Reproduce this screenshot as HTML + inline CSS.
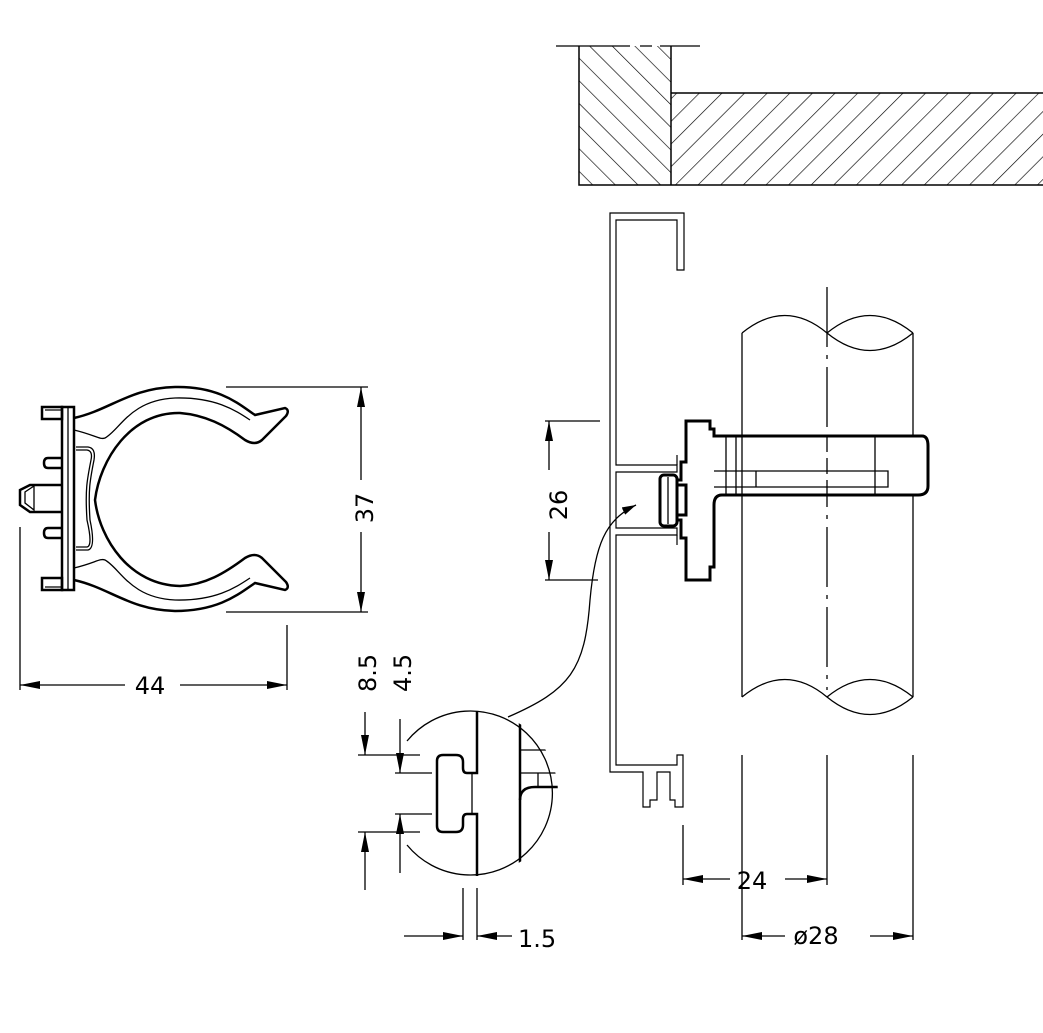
<!DOCTYPE html>
<html><head><meta charset="utf-8"><style>
html,body{margin:0;padding:0;background:#fff}
svg{display:block}
text{font-family:"DejaVu Sans","Liberation Sans",sans-serif;font-size:24px;fill:#000}
</style></head><body>
<svg width="1043" height="1033" viewBox="0 0 1043 1033" xmlns="http://www.w3.org/2000/svg">
<defs>
<pattern id="hL" patternUnits="userSpaceOnUse" width="16" height="16" patternTransform="rotate(-45)">
<line x1="0" y1="0" x2="0" y2="16" stroke="#000" stroke-width="1.3"/></pattern>
<pattern id="hR" patternUnits="userSpaceOnUse" width="16" height="16" patternTransform="rotate(45)">
<line x1="0" y1="0" x2="0" y2="16" stroke="#000" stroke-width="1.3"/></pattern>
<marker id="ar" viewBox="0 0 20 8" refX="20" refY="4" markerWidth="20" markerHeight="9" markerUnits="userSpaceOnUse" orient="auto-start-reverse"><path d="M0,0 L20,4 L0,8 z" fill="#000"/></marker>
<marker id="sa" viewBox="0 0 14 8" refX="14" refY="4" markerWidth="14" markerHeight="8" markerUnits="userSpaceOnUse" orient="auto"><path d="M0,0 L14,4 L0,8 z" fill="#000"/></marker>
<clipPath id="cc"><circle cx="476" cy="793" r="82"/></clipPath>
</defs>
<g fill="none" stroke="#000" stroke-width="1.3">
<rect x="579" y="46" width="92" height="139" fill="url(#hL)" stroke="none"/>
<rect x="671" y="93" width="372" height="92" fill="url(#hR)" stroke="none"/>
<path d="M556,46 H630 M640,46 H652 M660,46 H700"/>
<path d="M579,46 V185 H1043 M671,46 V185 M671,93 H1043" stroke-width="1.5"/>

<path d="M610,772 V213 H684 V270 H677 V220 H616 V465 H677 V472 H616 V528 H677 V535 H616 V765 H677 V755 H683 V807 H675 V800 H670 V772 H657 V800 H650 V807 H643 V772 Z" stroke-width="1.2"/>
<path d="M677,455 V465 M677,535 V545" stroke-width="1.2"/>

<path d="M742,697 V333 M913,333 V697"/>
<path d="M742,333 Q785,298 827,333 Q870,298 913,333 M827,333 Q870,368 913,333"/>
<path d="M742,697 Q785,662 827,697 Q870,662 913,697 M827,697 Q870,732 913,697"/>
<path d="M827,287 V690" stroke-dasharray="60,8,4,8"/>

<path d="M686,421 H710 V429 H714 V436 H922 Q928,436 928,446 V486 Q928,495 918,495 H722 Q714,495 714,505 V567 H710 V580 H686 V538 H681 V520 H677 V515 H686 V485 H677 V480 H681 V462 H686 Z" stroke-width="3" fill="#fff"/>
<path d="M714,471 H888 V487 H714 M726,436 V495 M736,436 V495 M742,436 V495 M875,436 V495 M756,471 V487"/>
<rect x="660" y="475" width="17" height="51" rx="4" stroke-width="3" fill="#fff"/>
<path d="M668,477 V524"/>
<path d="M827,436 V495" stroke-dasharray="16,6"/>

<path d="M508,717 C570,690 585,670 590,600 C595,545 605,520 636,505" marker-end="url(#sa)"/>

<path d="M545,421 H600 M545,580 H598"/>
<path d="M549,470 V421" marker-end="url(#ar)"/>
<path d="M549,532 V580" marker-end="url(#ar)"/>
<path d="M683,825 V885 M742,755 V940 M827,755 V885 M913,755 V940"/>
<path d="M730,879 H683" marker-end="url(#ar)"/>
<path d="M785,879 H827" marker-end="url(#ar)"/>
<path d="M785,936 H742" marker-end="url(#ar)"/>
<path d="M870,936 H913" marker-end="url(#ar)"/>

<path d="M62,407 H74 V590 H62 Z" stroke-width="2.5"/>
<path d="M68,407 V590"/>
<path d="M42,407 H62 V419 H42 Z M42,578 H62 V590 H42 Z" stroke-width="2.5"/>
<path d="M45,410 H62 M45,587 H62"/>
<path d="M62,458 H48 Q44,458 44,463 Q44,468 48,468 H62 M62,528 H48 Q44,528 44,533 Q44,538 48,538 H62" stroke-width="2.5"/>
<path d="M62,485 H30 L20,490 V505 L30,512 H62" stroke-width="2.5"/>
<path d="M34,486 L25,492 V503 L34,510 V486" />
<path d="M74,418 C110,410 130,388 175,387 C220,386 240,405 255,415 L285,408 Q290,410 286,416 L262,440 Q255,446 245,440 C225,425 205,415 180,413 C130,412 100,460 95,500 C100,540 130,585 180,586 C205,585 225,573 245,558 Q255,552 262,558 L286,582 Q290,588 285,590 L255,583 C240,593 220,611 175,611 C130,610 110,588 74,580" stroke-width="2.5"/>
<path d="M74,430 C95,435 100,440 105,438 C120,430 130,400 175,398 C215,397 235,410 250,420 M74,568 C95,563 100,558 105,560 C120,568 130,598 175,600 C215,601 235,588 250,578"/>
<path d="M76,447 H88 Q96,448 94,460 C90,480 88,490 90,520 Q96,548 88,550 H76"/>
<path d="M76,450 H87 Q93,451 91,460 C87,480 85,490 87,520 Q93,546 87,547 H76"/>

<path d="M226,387 H368 M226,612 H368"/>
<path d="M361,480 V387" marker-end="url(#ar)"/>
<path d="M361,530 V612" marker-end="url(#ar)"/>
<path d="M20,527 V690 M287,625 V690"/>
<path d="M125,685 H20" marker-end="url(#ar)"/>
<path d="M180,685 H287" marker-end="url(#ar)"/>

<path d="M407,741 A82,82 0 1 1 407,845"/>
<g clip-path="url(#cc)">
<path d="M520,720 V870" stroke-width="2.5"/>
<path d="M520,750 H560 M520,773 H560 M538,773 V787"/>
<path d="M520,800 Q520,787 535,787 H560" stroke-width="2.5"/>
</g>
<path d="M477,711 V773 H467 Q463,773 463,768 V762 Q463,755 456,755 H443 Q437,755 437,761 V826 Q437,832 443,832 H456 Q463,832 463,825 V819 Q463,814 467,814 H477 V876" stroke-width="2.5"/>
<path d="M472,773 V814"/>
<path d="M358,755 H420 M358,832 H420 M395,773 H432 M395,814 H432" />
<path d="M365,712 V755" marker-end="url(#ar)"/>
<path d="M365,890 V832" marker-end="url(#ar)"/>
<path d="M400,719 V773" marker-end="url(#ar)"/>
<path d="M400,873 V814" marker-end="url(#ar)"/>
<path d="M463,888 V940 M477,888 V940"/>
<path d="M404,936 H463" marker-end="url(#ar)"/>
<path d="M512,936 H477" marker-end="url(#ar)"/>
</g>
<rect x="536" y="480" width="24" height="50" fill="#fff"/>
<text transform="translate(567,505) rotate(-90)" text-anchor="middle">26</text>
<rect x="350" y="480" width="24" height="52" fill="#fff"/>
<text transform="translate(373,508) rotate(-90)" text-anchor="middle">37</text>
<text x="150" y="694" text-anchor="middle">44</text>
<text x="752" y="889" text-anchor="middle">24</text>
<text x="816" y="944" text-anchor="middle">ø28</text>
<text x="518" y="947">1.5</text>
<text transform="translate(376,692) rotate(-90)">8.5</text>
<text transform="translate(411,692) rotate(-90)">4.5</text>
</svg>
</body></html>
